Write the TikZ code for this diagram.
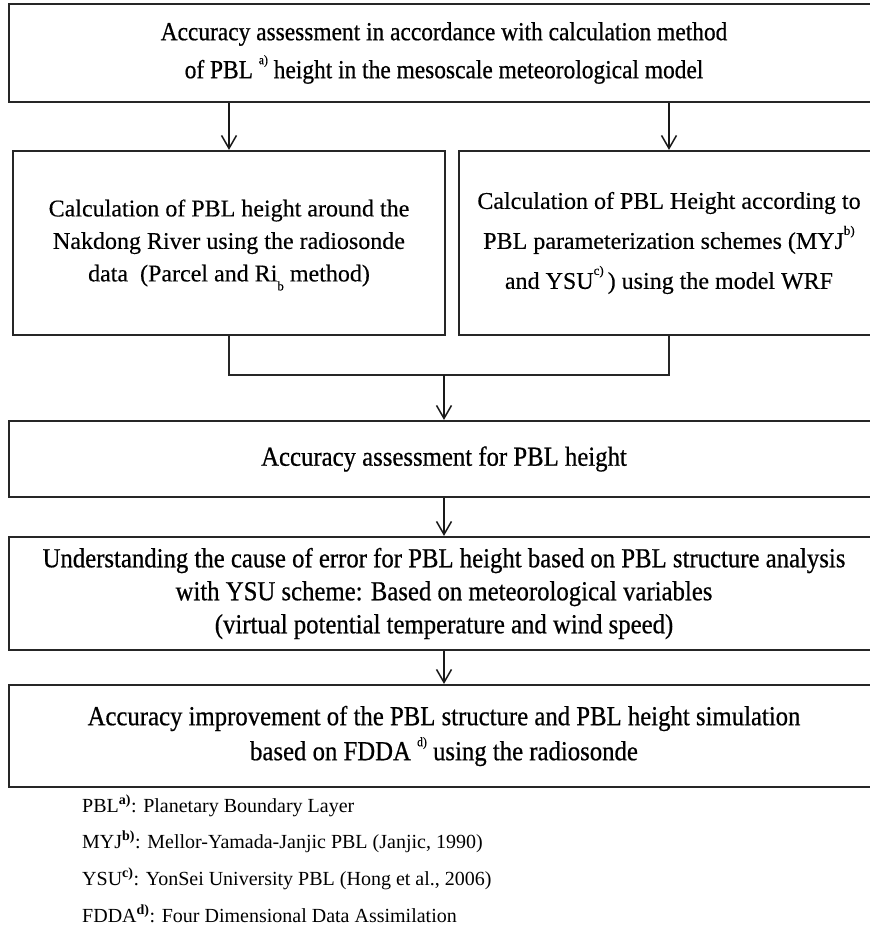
\documentclass[tikz,border=0pt]{standalone}
\usepackage{fontspec}
\setmainfont{Liberation Serif}
\newfontfamily\condfont[FakeStretch=0.9, FakeBold=0.6]{Liberation Serif}
\newfontfamily\widefont[FakeBold=0.3]{Liberation Serif}
\usetikzlibrary{arrows.meta}
\newcommand{\supmark}[1]{\smash{\raisebox{14pt}{\fontsize{13}{13}\selectfont #1}}}
\newcommand{\submark}[1]{\smash{\raisebox{-9pt}{\fontsize{13}{13}\selectfont #1}}}
\tikzset{
  box/.style={draw=black!85, line width=2.2pt, inner sep=0pt, align=center, text=black},
  link/.style={draw=black!85, line width=2pt},
  arr/.style={draw=black!90, line width=1.5pt, -{Straight Barb[length=13pt,width=15pt,line width=1.5pt]}},
  fnote/.style={anchor=base west, inner sep=0pt, font=\fontsize{20}{24}\selectfont, text=black}
}
\begin{document}
\begin{tikzpicture}[x=1pt,y=-1pt]
\clip (0,0) rectangle (870,932);
\fill[white] (0,0) rectangle (870,932);
% boxes
\node[box, font=\condfont\fontsize{26}{38}\selectfont, minimum width=870pt, minimum height=98pt] (b1) at (444,53)
  {Accuracy assessment in accordance with calculation method\\
   of PBL \supmark{a)} height in the mesoscale meteorological model};
\node[box, font=\widefont\fontsize{24}{32.5}\selectfont, minimum width=432pt, minimum height=184pt] (b2l) at (229,243)
  {Calculation of PBL height around the\\
   Nakdong River using the radiosonde\\
   data\ \ (Parcel and Ri\submark{b} method)};
\node[box, font=\widefont\fontsize{24}{40}\selectfont, minimum width=420pt, minimum height=184pt] (b2r) at (669,243)
  {Calculation of PBL Height according to\\
   PBL parameterization schemes (MYJ\supmark{b)}\\
   and YSU\supmark{c)}\,) using the model WRF};
\node[box, font=\condfont\fontsize{27.5}{33}\selectfont, minimum width=870pt, minimum height=76pt] (b3) at (444,459)
  {Accuracy assessment for PBL height};
\node[box, font=\condfont\fontsize{27.5}{33}\selectfont, minimum width=870pt, minimum height=113pt] (b4) at (444,593.5)
  {Understanding the cause of error for PBL height based on PBL structure analysis\\
   with YSU scheme: Based on meteorological variables\\
   (virtual potential temperature and wind speed)};
\node[box, font=\condfont\fontsize{27.5}{35}\selectfont, minimum width=870pt, minimum height=102pt] (b5) at (444,736)
  {Accuracy improvement of the PBL structure and PBL height simulation\\
   based on FDDA \supmark{d)} using the radiosonde};
% connectors
\draw[arr] (b1.south -| b2l.north) -- (b2l.north);
\draw[arr] (b1.south -| b2r.north) -- (b2r.north);
\coordinate (cj) at (444,375);
\draw[link] (b2l.south) -- (b2l.south |- cj) -- (b2r.south |- cj) -- (b2r.south);
\draw[arr] (cj) -- (b3.north);
\draw[arr] (b3.south) -- (b4.north);
\draw[arr] (b4.south) -- (b5.north);
% footnotes
\node[fnote] (fn1) at (82,812) {PBL\textsuperscript{\textbf{a)}}: Planetary Boundary Layer};
\node[fnote] (fn2) at (82,848) {MYJ\textsuperscript{\textbf{b)}}: Mellor-Yamada-Janjic PBL (Janjic, 1990)};
\node[fnote] (fn3) at (82,885) {YSU\textsuperscript{\textbf{c)}}: YonSei University PBL (Hong et al., 2006)};
\node[fnote] (fn4) at (82,922) {FDDA\textsuperscript{\textbf{d)}}: Four Dimensional Data Assimilation};
\end{tikzpicture}
\end{document}
